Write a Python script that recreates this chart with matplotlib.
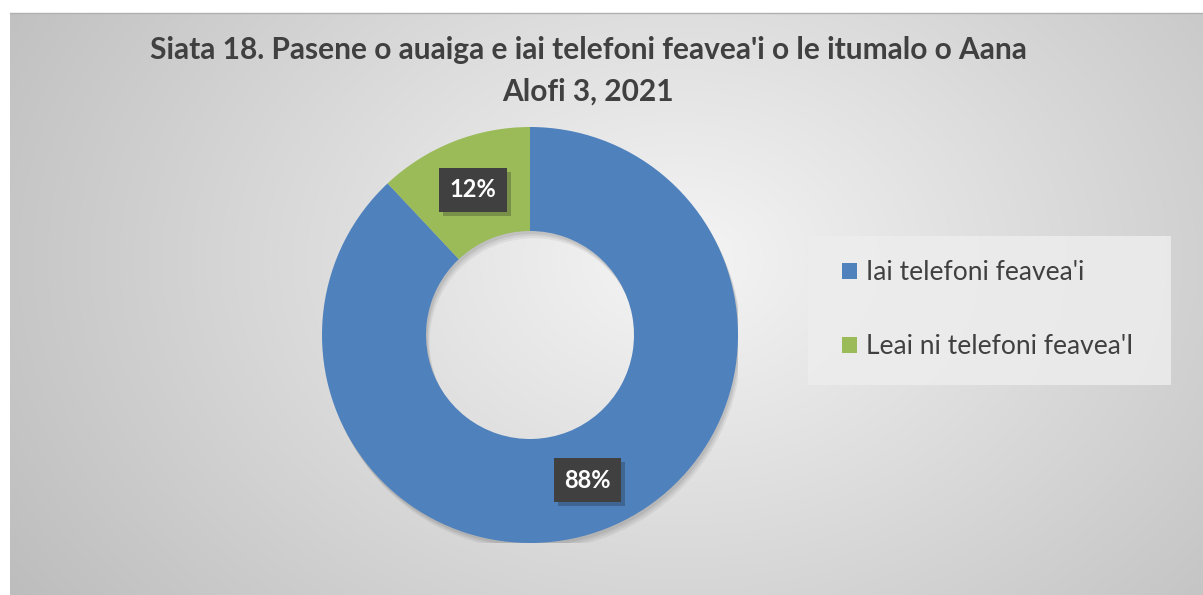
import numpy as np
import matplotlib
matplotlib.use("Agg")
import matplotlib.pyplot as plt
from matplotlib.patches import Patch, Rectangle, Wedge
import matplotlib.patheffects as pe

categories = ["Iai telefoni feavea'i", "Leai ni telefoni feavea'I"]
values = [88, 12]
colors = ["#4F81BD", "#9BBB59"]
title_lines = ["Siata 18. Pasene o auaiga e iai telefoni feavea'i o le itumalo o Aana", "Alofi 3, 2021"]

W, H = 1203, 595
fig = plt.figure(figsize=(W / 100, H / 100), dpi=100)
fig.patch.set_facecolor("white")
FONT = "Lato"

# background gradient
bg = fig.add_axes([10 / W, 0, (W - 10) / W, (H - 13) / H])
bg.set_axis_off()
yy, xx = np.mgrid[0:300, 0:600]
px = xx / 599 * (W - 10) + 10
py = yy / 299 * (H - 13) + 13
d = np.sqrt(((px - 680) / 700) ** 2 + ((py - 260) / 520) ** 2)
val = np.clip(0.96 - 0.19 * d, 0, 1)
bg.imshow(np.dstack([val, val, val]), aspect="auto", extent=[0, 1, 0, 1], origin="upper")
bg.set_xlim(0, 1)
bg.set_ylim(0, 1)
fig.add_artist(plt.Line2D([10 / W, 1], [(H - 13) / H, (H - 13) / H], color="#b0b0b0", lw=1))

fig.text(588 / W, 1 - 50 / H, title_lines[0],
         ha="center", va="center", fontsize=21.5, fontweight="bold", color="#404040", family=FONT)
fig.text(588 / W, 1 - 92 / H, title_lines[1],
         ha="center", va="center", fontsize=21.5, fontweight="bold", color="#404040", family=FONT)

cx, cy, R = 530, 335, 208
ax = fig.add_axes([(cx - R) / W, (H - cy - R) / H, 2 * R / W, 2 * R / H])
# soft shadow ring
for k, a in [(0.035, 0.05), (0.025, 0.06), (0.015, 0.07)]:
    ax.add_patch(Wedge((k * 0.5, -k), 1.0, 0, 360, width=0.5, facecolor="black", alpha=a, edgecolor="none"))
wedges, texts, autotexts = ax.pie(values, colors=colors, startangle=90, counterclock=False,
                                  radius=1.0, autopct="%d%%", pctdistance=0.75,
                                  wedgeprops=dict(width=0.5, edgecolor="none", linewidth=0),
                                  textprops=dict(color="white", fontsize=17, fontweight="bold", family=FONT))
for t in autotexts:
    t.set_bbox(dict(boxstyle="square,pad=0.45", facecolor="#404040", edgecolor="none"))
    t.get_bbox_patch().set_path_effects([pe.SimplePatchShadow(offset=(3, -3), alpha=0.25), pe.Normal()])
ax.set_xlim(-1, 1)
ax.set_ylim(-1, 1)
ax.set_aspect("equal")
ax.set_axis_off()

fig.add_artist(Rectangle((808 / W, 1 - 385 / H), (1171 - 808) / W, (385 - 236) / H,
                         transform=fig.transFigure, facecolor="#ededed", edgecolor="none", alpha=0.85))
handles = [Patch(facecolor=c, edgecolor="none") for c in colors]
leg = fig.legend(handles, categories, loc="upper left",
                 bbox_to_anchor=(842 / W, 1 - 260 / H), frameon=False,
                 prop=dict(family=FONT, size=19), labelcolor="#404040",
                 handlelength=0.55, handleheight=0.55, handletextpad=0.35,
                 labelspacing=1.86, borderpad=0, borderaxespad=0)

fig.savefig("out.png", dpi=100)
